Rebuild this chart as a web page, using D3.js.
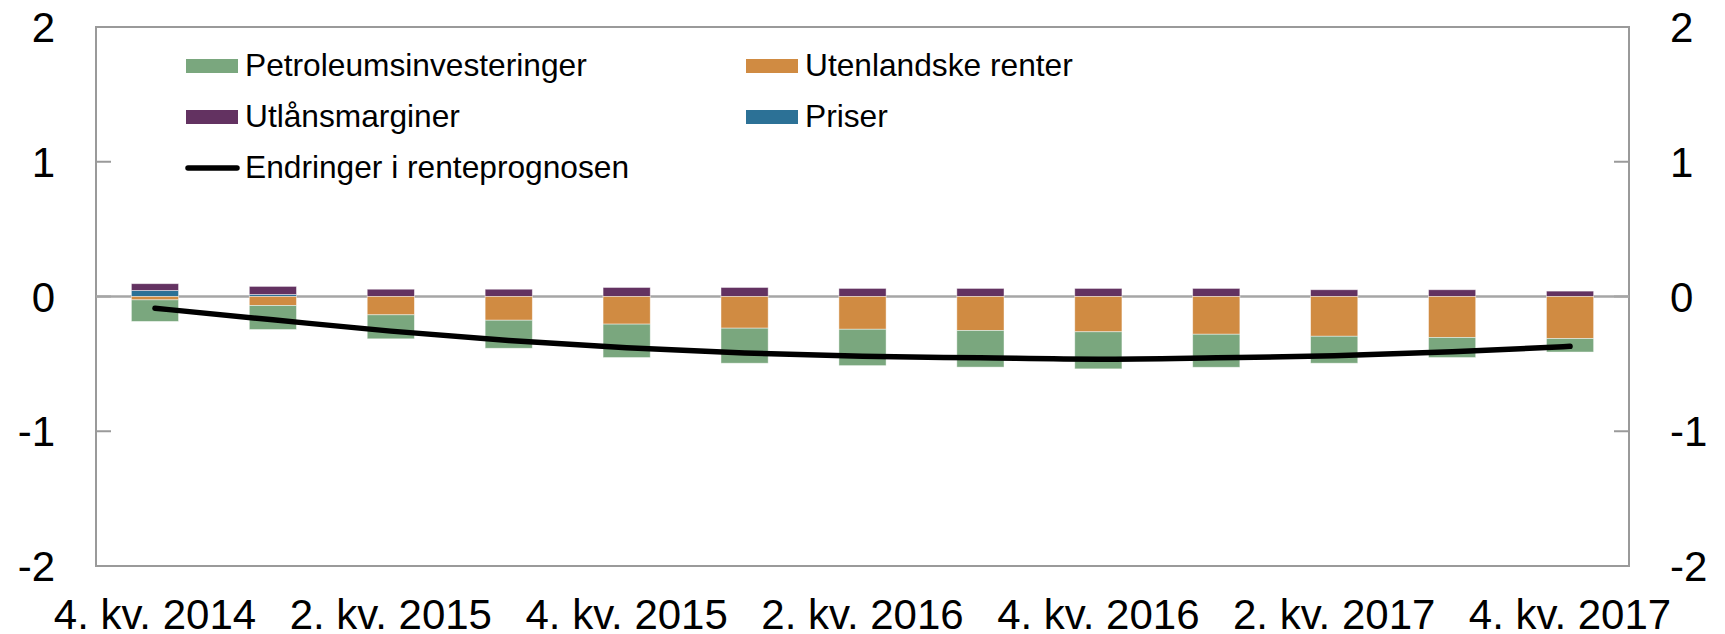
<!DOCTYPE html>
<html><head><meta charset="utf-8">
<script src="https://cdn.jsdelivr.net/npm/d3@7"></script>
<style>html,body{margin:0;padding:0;background:#fff;}svg{display:block;font-family:"Liberation Sans",Arial,sans-serif;}</style>
</head><body>
<svg id="chart" width="1725" height="634"></svg>
<script>
const categories = ["4. kv. 2014","1. kv. 2015","2. kv. 2015","3. kv. 2015","4. kv. 2015","1. kv. 2016","2. kv. 2016","3. kv. 2016","4. kv. 2016","1. kv. 2017","2. kv. 2017","3. kv. 2017","4. kv. 2017"];
const petroleumsinvesteringer = [-0.16,-0.178,-0.178,-0.208,-0.248,-0.26,-0.27,-0.272,-0.275,-0.245,-0.2,-0.149,-0.1];
const utenlandskeRenter = [-0.025,-0.067,-0.136,-0.176,-0.205,-0.235,-0.243,-0.252,-0.262,-0.28,-0.295,-0.304,-0.312];
const utlansmarginer = [0.05,0.06,0.054,0.054,0.067,0.067,0.06,0.06,0.06,0.06,0.05,0.05,0.04];
const priser = [0.045,0.015,0,0,0,0,0,0,0,0,0,0,0];
const endringer = [-0.087,-0.173,-0.257,-0.327,-0.381,-0.42,-0.443,-0.455,-0.465,-0.455,-0.44,-0.41,-0.37];
const yTicks = [-2,-1,0,1,2];
const xTickLabels = ["4. kv. 2014","2. kv. 2015","4. kv. 2015","2. kv. 2016","4. kv. 2016","2. kv. 2017","4. kv. 2017"];

const seriesInfo = [
  {key:"Priser", values:priser, color:"#2c7196"},
  {key:"Utlånsmarginer", values:utlansmarginer, color:"#633261"},
  {key:"Utenlandske renter", values:utenlandskeRenter, color:"#d08b42"},
  {key:"Petroleumsinvesteringer", values:petroleumsinvesteringer, color:"#7aa77e"}
];

const svg = d3.select("#chart");
const L = 96, R = 1629, T = 27, B = 566;
const x = d3.scaleBand().domain(categories).range([L, R]).paddingInner(0.6).paddingOuter(0.3);
const y = d3.scaleLinear().domain([-2, 2]).range([B, T]);

const rows = categories.map((c, i) => {
  const o = {cat: c};
  seriesInfo.forEach(s => o[s.key] = s.values[i]);
  return o;
});
const stack = d3.stack().keys(seriesInfo.map(s => s.key)).offset(d3.stackOffsetDiverging);
const stacked = stack(rows);

// frame
svg.append("rect").attr("x", L).attr("y", T).attr("width", R - L).attr("height", B - T)
  .attr("fill", "none").attr("stroke", "#9a9a9a").attr("stroke-width", 2);

// ticks inward both sides
const tickLen = 15;
svg.append("g").selectAll("line").data(yTicks).join("line")
  .attr("x1", L).attr("x2", L + tickLen).attr("y1", d => y(d)).attr("y2", d => y(d))
  .attr("stroke", "#9a9a9a").attr("stroke-width", 2);
svg.append("g").selectAll("line").data(yTicks).join("line")
  .attr("x1", R - tickLen).attr("x2", R).attr("y1", d => y(d)).attr("y2", d => y(d))
  .attr("stroke", "#9a9a9a").attr("stroke-width", 2);

// zero line
svg.append("line").attr("x1", L).attr("x2", R).attr("y1", y(0)).attr("y2", y(0))
  .attr("stroke", "#a6a6a6").attr("stroke-width", 2.5);

// bars
const colorOf = Object.fromEntries(seriesInfo.map(s => [s.key, s.color]));
svg.append("g").selectAll("g").data(stacked).join("g")
  .attr("fill", d => colorOf[d.key])
  .selectAll("rect").data(d => d).join("rect")
  .attr("x", d => x(d.data.cat))
  .attr("width", x.bandwidth())
  .attr("y", d => y(Math.max(d[0], d[1])))
  .attr("height", d => Math.abs(y(d[0]) - y(d[1])))
  .attr("stroke", "#ffffff").attr("stroke-opacity", 0.55).attr("stroke-width", 0.8);

// line
const line = d3.line().x((d, i) => x(categories[i]) + x.bandwidth() / 2).y(d => y(d)).curve(d3.curveMonotoneX);
svg.append("path").datum(endringer).attr("d", line)
  .attr("fill", "none").attr("stroke", "#000").attr("stroke-width", 5.5)
  .attr("stroke-linecap", "round").attr("stroke-linejoin", "round");

// y labels
svg.append("g").selectAll("text").data(yTicks).join("text")
  .attr("x", 55).attr("y", d => y(d)).attr("dy", "0.36em").attr("text-anchor", "end")
  .attr("font-size", 42).text(d => d);
svg.append("g").selectAll("text").data(yTicks).join("text")
  .attr("x", 1670).attr("y", d => y(d)).attr("dy", "0.36em").attr("text-anchor", "start")
  .attr("font-size", 42).text(d => d);

// x labels
svg.append("g").selectAll("text").data(xTickLabels).join("text")
  .attr("x", d => x(d) + x.bandwidth() / 2).attr("y", 629).attr("text-anchor", "middle")
  .attr("font-size", 42).text(d => d);

// legend
const legendItems = [
  {label:"Petroleumsinvesteringer", color:"#7aa77e", type:"rect", lx:186, ly:66},
  {label:"Utenlandske renter", color:"#d08b42", type:"rect", lx:746, ly:66},
  {label:"Utlånsmarginer", color:"#633261", type:"rect", lx:186, ly:117},
  {label:"Priser", color:"#2c7196", type:"rect", lx:746, ly:117},
  {label:"Endringer i renteprognosen", color:"#000", type:"line", lx:186, ly:168}
];
const lg = svg.append("g");
legendItems.forEach(it => {
  if (it.type === "rect") {
    lg.append("rect").attr("x", it.lx).attr("y", it.ly - 7).attr("width", 52).attr("height", 14).attr("fill", it.color);
  } else {
    lg.append("line").attr("x1", it.lx + 2).attr("x2", it.lx + 51).attr("y1", it.ly).attr("y2", it.ly)
      .attr("stroke", it.color).attr("stroke-width", 5.5).attr("stroke-linecap", "round");
  }
  lg.append("text").attr("x", it.lx + 59).attr("y", it.ly + 10).attr("font-size", 31.7).text(it.label);
});
</script>
</body></html>
